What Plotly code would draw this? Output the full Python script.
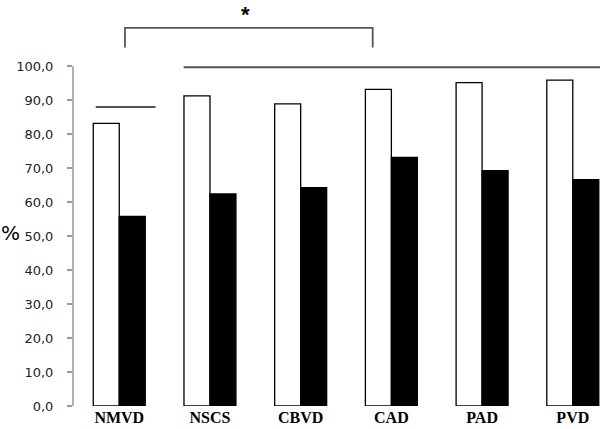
import plotly.graph_objects as go

# values (%)
categories = ["NMVD", "NSCS", "CBVD", "CAD", "PAD", "PVD"]
white_vals = [83.2, 91.3, 88.9, 93.2, 95.2, 95.9]
black_vals = [55.8, 62.4, 64.3, 73.2, 69.3, 66.6]
y_ticks = [0, 10, 20, 30, 40, 50, 60, 70, 80, 90, 100]
y_tick_text = [f"{v},0" for v in y_ticks]

line_col = "#555555"

fig = go.Figure()
fig.add_trace(go.Bar(x=list(range(len(categories))), y=white_vals,
                     marker=dict(color="white", line=dict(color="black", width=1.3)),
                     showlegend=False))
fig.add_trace(go.Bar(x=list(range(len(categories))), y=black_vals,
                     marker=dict(color="black", line=dict(color="black", width=1.3)),
                     showlegend=False))

# significance lines + y axis line (only up to 100)
shapes = [
    dict(type="line", x0=-0.26, x1=0.40, y0=88.0, y1=88.0),
    dict(type="line", x0=0.71, x1=5.35, y0=99.7, y1=99.7),
    dict(type="path", path="M 0.063,105.5 L 0.063,111.3 L 2.794,111.3 L 2.794,105.5"),
]
for s in shapes:
    s.update(xref="x", yref="y", line=dict(color=line_col, width=1.8))
shapes.append(dict(type="line", xref="paper", yref="y", x0=0, x1=0, y0=0, y1=100,
                   line=dict(color="#999999", width=1.5)))
fig.update_layout(shapes=shapes)

fig.add_annotation(x=1.39, y=1, xref="x", yref="paper", yanchor="top", text="<b>*</b>",
                   showarrow=False, font=dict(family="Liberation Sans", size=22, color="black"))
fig.add_annotation(x=-0.118, y=51, xref="paper", yref="y", text="%", showarrow=False,
                   xanchor="center", font=dict(family="DejaVu Sans", size=20, color="black"))

fig.update_layout(
    width=600, height=429,
    margin=dict(l=73, r=0, t=0, b=23),
    plot_bgcolor="white", paper_bgcolor="white",
    barmode="group", bargap=0.427, bargroupgap=0,
)
fig.update_xaxes(range=[-0.51, 5.30], tickvals=list(range(len(categories))),
                 ticktext=[f"<b>{c}</b>" for c in categories],
                 tickfont=dict(family="Liberation Serif", size=16, color="black"),
                 showgrid=False, showline=False, zeroline=False, ticks="")
fig.update_yaxes(range=[0, 119.5], tickvals=y_ticks, ticktext=y_tick_text,
                 tickfont=dict(family="DejaVu Sans", size=13, color="#222222"),
                 ticklabelstandoff=11,
                 showgrid=False, zeroline=False, showline=False,
                 ticks="outside", ticklen=5, tickcolor="#999999", tickwidth=1.5)

# the page body has an 8px default margin; drop it so the chart sits at 0,0
fig.write_html("out.html", config={"displayModeBar": False},
               post_script="document.body.style.margin='0';")
